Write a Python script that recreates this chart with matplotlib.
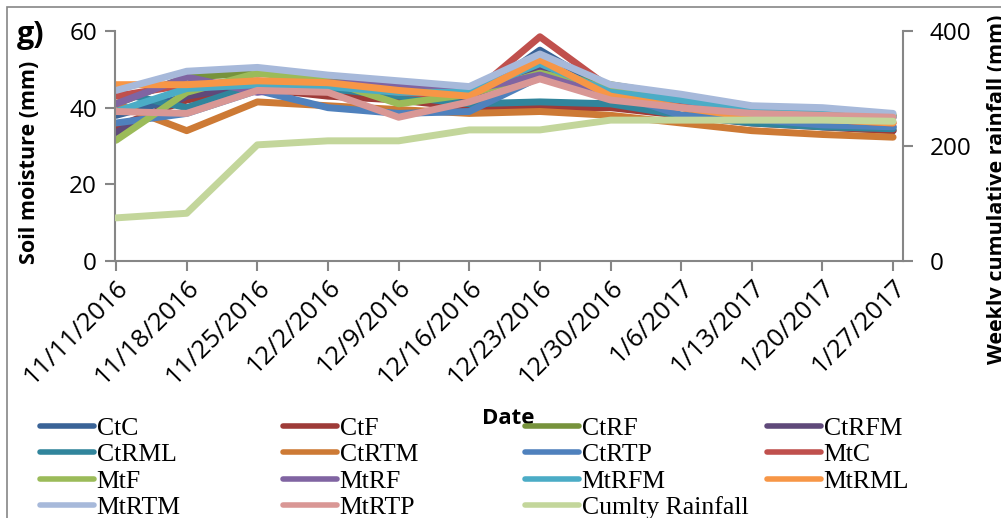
import matplotlib.pyplot as plt
from matplotlib.lines import Line2D
from matplotlib.patches import Rectangle

# weekly dates on the category axis
dates = ['11/11/2016', '11/18/2016', '11/25/2016', '12/2/2016', '12/9/2016',
         '12/16/2016', '12/23/2016', '12/30/2016', '1/6/2017', '1/13/2017',
         '1/20/2017', '1/27/2017']

# soil moisture (mm) per treatment
CtC = [38, 43, 46, 45, 43, 42, 55, 44, 40, 37, 35, 34]
CtF = [35, 42, 45, 43, 42, 40, 40, 40, 38, 36, 35, 34]
CtRF = [41, 48, 49, 48, 45, 44, 49, 46, 43, 40, 39.5, 38]
CtRFM = [33.5, 43, 46, 46, 44, 43, 50, 44, 41, 38, 36, 35]
CtRML = [44, 40, 46, 45, 43, 41, 41.5, 41, 38, 36, 35, 34.5]
CtRTM = [41, 34, 41.5, 40.5, 39.5, 38.5, 39, 38, 36, 34, 33, 32.3]
CtRTP = [36, 38.5, 44.5, 40, 38.5, 39, 48, 44, 38, 37, 35.5, 35]
MtC = [43, 46, 47, 46, 44, 43, 58.5, 45, 41, 38, 37, 36]
MtF = [31.5, 44, 49, 47, 41, 43.5, 49, 45, 42.5, 39.5, 39, 38]
MtRF = [41, 48, 44, 46.5, 46, 44.5, 48.5, 43, 42, 39, 38.5, 37.5]
MtRFM = [39, 45, 46, 45.5, 44, 44, 51.5, 44, 42, 39.5, 39, 37.5]
MtRML = [46, 46, 47, 46.5, 44.5, 43, 52.5, 43, 40, 37.5, 37, 36]
MtRTM = [44.5, 49.5, 50.5, 48.5, 47, 45.5, 54, 46, 43.5, 40.5, 40, 38.5]
MtRTP = [39, 38.5, 44.5, 44, 37.5, 41.5, 47.5, 42, 40, 38.5, 38, 37.5]

# weekly cumulative rainfall (mm), right axis
rainfall = [75, 83, 202, 209, 209, 228, 228, 245, 245, 245, 245, 243]

series = [
    ('CtC', CtC, '#3A6397'),
    ('CtF', CtF, '#9E3B38'),
    ('CtRF', CtRF, '#77933C'),
    ('CtRFM', CtRFM, '#5F497A'),
    ('CtRML', CtRML, '#31859C'),
    ('CtRTM', CtRTM, '#CD7A35'),
    ('CtRTP', CtRTP, '#4F81BD'),
    ('MtC', MtC, '#C0504D'),
    ('MtF', MtF, '#9BBB59'),
    ('MtRF', MtRF, '#8064A2'),
    ('MtRFM', MtRFM, '#4BACC6'),
    ('MtRML', MtRML, '#F79646'),
    ('MtRTM', MtRTM, '#A7B9DA'),
    ('MtRTP', MtRTP, '#D99795'),
]
rain_name = 'Cumlty Rainfall'
rain_color = '#C3D69B'

sans = 'Open Sans'
serif = 'Liberation Serif'
axis_grey = '#868686'

fig = plt.figure(figsize=(10.01, 5.18), dpi=100)
ax = fig.add_axes([115 / 1001, 1 - 261 / 518, (903 - 115) / 1001, 230 / 518])
ax2 = ax.twinx()

x = list(range(len(dates)))
for name, vals, col in series:
    ax.plot(x, vals, color=col, lw=5, solid_capstyle='round',
            solid_joinstyle='round')
ax2.plot(x, rainfall, color=rain_color, lw=5, solid_capstyle='round',
         solid_joinstyle='round')

ax.set_xlim(-0.015, 11.14)
ax.set_ylim(0, 60)
ax2.set_ylim(0, 400)
ax.set_yticks([0, 20, 40, 60])
ax2.set_yticks([0, 200, 400])
ax.set_xticks(x)
ax.set_xticklabels(dates, rotation=45, ha='right', rotation_mode='anchor',
                   fontsize=18.5, family=sans)
for lab in ax.get_yticklabels():
    lab.set_family(sans)
    lab.set_fontsize(17.5)
for lab in ax2.get_yticklabels():
    lab.set_family(sans)
    lab.set_fontsize(17.5)

for a in (ax, ax2):
    a.spines['top'].set_visible(False)
    for s in ('left', 'right', 'bottom'):
        a.spines[s].set_color(axis_grey)
        a.spines[s].set_linewidth(1.5)
ax.spines['right'].set_visible(False)
ax2.spines['left'].set_visible(False)
ax2.spines['bottom'].set_visible(False)
ax.tick_params(axis='both', length=7, width=1.5, color=axis_grey, pad=6)
ax.tick_params(axis='x', pad=3)
ax2.tick_params(axis='y', length=7, width=1.5, color=axis_grey, pad=12)

# axis titles
fig.text(30 / 1001, 1 - 162 / 518, 'Soil moisture (mm)', family=sans,
         fontweight='bold', fontsize=15.5, rotation=90,
         ha='center', va='center')
fig.text(997 / 1001, 1 - 189 / 518, 'Weekly cumulative rainfall (mm)',
         family=sans, fontweight='bold', fontsize=15.5, rotation=90,
         ha='center', va='center')
fig.text(508 / 1001, 1 - 418 / 518, 'Date', family=sans, fontweight='bold',
         fontsize=16, ha='center', va='center')
fig.text(17 / 1001, 1 - 20 / 518, 'g)', family=sans, fontweight='bold',
         fontsize=22, ha='left', va='top')

# legend: four columns, filled row by row
entries = [(n, c) for n, v, c in series] + [(rain_name, rain_color)]
col_x = [40, 283, 525, 767]
for j, cx in enumerate(col_x):
    sub = entries[j::4]
    handles = [Line2D([], [], color=c, lw=4, solid_capstyle='round')
               for n, c in sub]
    leg = fig.legend(handles, [n for n, c in sub], loc='upper left',
                     bbox_to_anchor=(cx / 1001, 1 - 417 / 518),
                     frameon=False, borderaxespad=0, borderpad=0,
                     handlelength=2.1, handletextpad=0.1, labelspacing=0.13,
                     prop={'family': serif, 'size': 18.5})

# chart area border
fig.add_artist(Rectangle((7 / 1001, -0.05), 1.2, 1 - 7 / 518 + 0.05,
                         transform=fig.transFigure, fill=False,
                         edgecolor=axis_grey, lw=1.2))

fig.savefig('out.png', dpi=100)
